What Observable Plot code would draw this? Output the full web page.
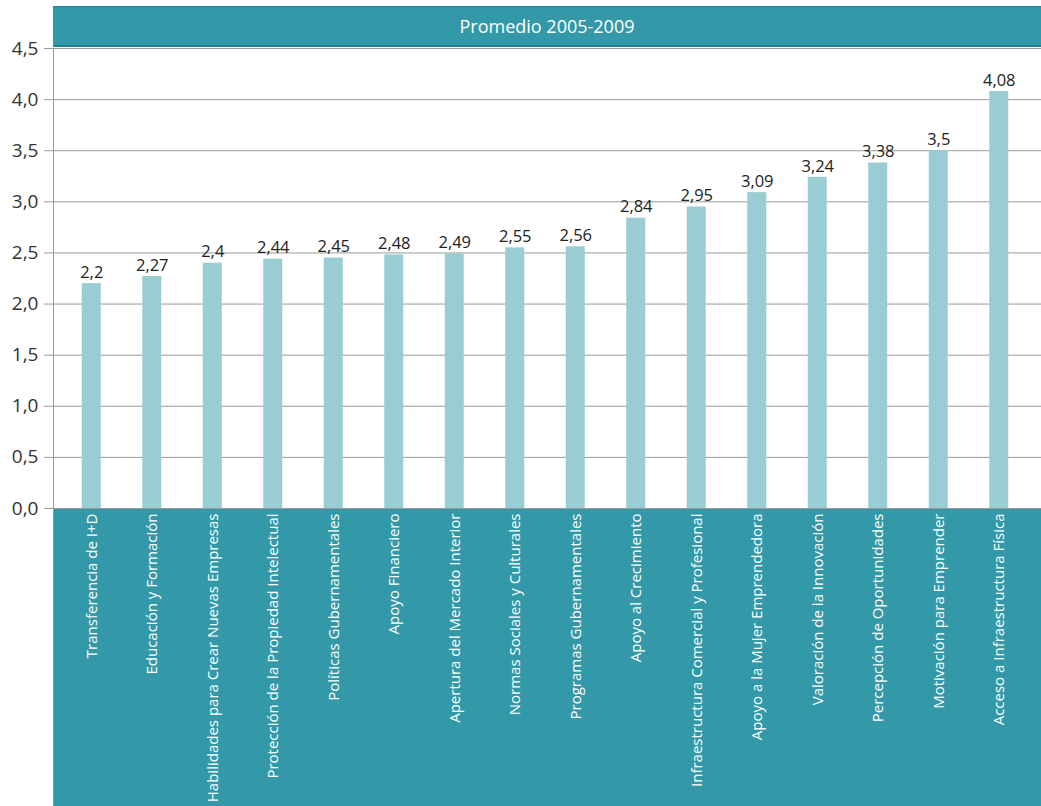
<!DOCTYPE html>
<html>
<head>
<meta charset="utf-8">
<script src="https://cdn.jsdelivr.net/npm/d3@7"></script>
<script src="https://cdn.jsdelivr.net/npm/@observablehq/plot@0.6"></script>
<style>
  html, body { margin: 0; padding: 0; background: #fff; }
  #wrap { position: relative; width: 1041px; height: 806px; font-family: "Open Sans", sans-serif; overflow: hidden; }
  #header { position: absolute; left: 53px; top: 6px; width: 988px; height: 38px; background: #3399a8;
            border-top: 1px solid #1f8595; border-bottom: 2px solid #1f8595; color: #fff; font-size: 18px;
            display: flex; align-items: center; justify-content: center; }
  #band { position: absolute; left: 53px; top: 508px; width: 988px; height: 298px; background: #3399a8;
          border-left: 1px solid #999; border-top: 1px solid #2a8f9e; box-sizing: border-box; }
  #chart { position: absolute; left: 0; top: 0; }
</style>
</head>
<body>
<div id="wrap">
  <div id="band"></div>
  <div id="header">Promedio 2005-2009</div>
  <div id="chart"></div>
</div>
<script>
const categories = [
  "Transferencia de I+D",
  "Educación y Formación",
  "Habilidades para Crear Nuevas Empresas",
  "Protección de la Propiedad Intelectual",
  "Políticas Gubernamentales",
  "Apoyo Financiero",
  "Apertura del Mercado Interior",
  "Normas Sociales y Culturales",
  "Programas Gubernamentales",
  "Apoyo al Crecimiento",
  "Infraestructura Comercial y Profesional",
  "Apoyo a la Mujer Emprendedora",
  "Valoración de la Innovación",
  "Percepción de Oportunidades",
  "Motivación para Emprender",
  "Acceso a Infraestructura Física"
];
const values = [2.2, 2.27, 2.4, 2.44, 2.45, 2.48, 2.49, 2.55, 2.56, 2.84, 2.95, 3.09, 3.24, 3.38, 3.5, 4.08];
const yTicks = [0, 0.5, 1, 1.5, 2, 2.5, 3, 3.5, 4, 4.5];

const data = categories.map((c, i) => ({category: c, value: values[i]}));
const comma = v => String(v).replace(".", ",");
const tickFmt = v => v.toFixed(1).replace(".", ",");

const chart = Plot.plot({
  width: 1041,
  height: 806,
  marginTop: 48,
  marginBottom: 298,
  marginLeft: 53,
  marginRight: 0,
  style: {fontFamily: "'Open Sans', sans-serif", background: "transparent", overflow: "visible"},
  x: {domain: categories, range: [61, 1029], padding: 0, round: false},
  y: {domain: [0, 4.5]},
  marks: [
    Plot.gridY(yTicks, {stroke: "#9a9a9a", strokeOpacity: 1, strokeWidth: 1}),
    Plot.axisY(yTicks, {tickFormat: tickFmt, tickSize: 9, tickPadding: 6, fontSize: 19, fill: "#333", stroke: "#9a9a9a", strokeOpacity: 1, label: null}),
    Plot.frame({anchor: "left", stroke: "#999"}),
    Plot.barY(data, {x: "category", y: "value", fill: "#99cdd3", insetLeft: 20.75, insetRight: 20.75}),
    Plot.text(data, {x: "category", y: "value", text: d => comma(d.value), dy: -11, fontSize: 16.5, fill: "#222"}),
    Plot.axisX({tickRotate: -90, tickSize: 0, tickPadding: 5, fontSize: 15, fill: "#fff", label: null, textAnchor: "end"})
  ]
});
document.getElementById("chart").appendChild(chart);
</script>
</body>
</html>
